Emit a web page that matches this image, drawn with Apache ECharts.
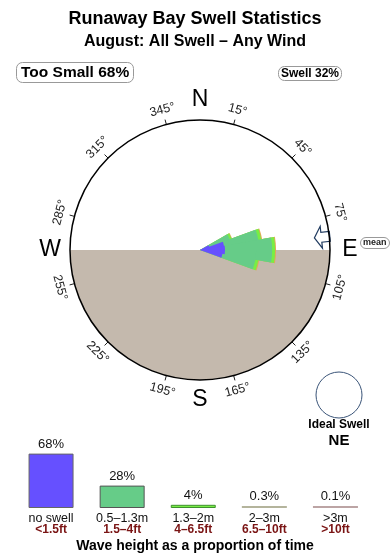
<!DOCTYPE html>
<html>
<head>
<meta charset="utf-8">
<script src="https://cdn.jsdelivr.net/npm/echarts@6/dist/echarts.min.js"></script>
<style>
html,body{margin:0;padding:0;background:#fff;}
#chart{width:390px;height:560px;}
</style>
</head>
<body>
<div id="chart"></div>
<script>
// ---------- data ----------
const tooSmallPct = 68;
const swellPct = 32;
const idealDir = 'NE';
const meanDir = [84];

// swell rose: direction bins (degrees) and stacked segment lengths (% of time)
const swellDirs = [70, 80, 90, 100];
const noSwell   = [3.0, 7.5, 7.7, 7.0];   // <1.5ft
const swell05   = [6.7, 10.7, 14.5, 10.3]; // 0.5-1.3m
const swell13   = [0.6, 0.9, 0.9, 0.9];   // 1.3-2m
const swell2    = [0.2, 0.3, 0.3, 0.3];   // 2-3m

// compass ticks & cardinal labels
const tickAngles = [15, 45, 75, 105, 135, 165, 195, 225, 255, 285, 315, 345];
const cardinalAngles = [0, 90, 180, 270];
const cardinalLabels = ['N', 'E', 'S', 'W'];
const landArc = [90, 270];

// wave height distribution
const heightCats = ['no swell', '0.5–1.3m', '1.3–2m', '2–3m', '>3m'];
const feetCats = ['<1.5ft', '1.5–4ft', '4–6.5ft', '6.5–10ft', '>10ft'];
const proportion = [68, 28, 4, 0.3, 0.1];

// ---------- chart ----------
const F = 'Liberation Sans, Arial, Helvetica, sans-serif';
const radiusMax = 40;
const halfWidth = 10;

const layers = [noSwell, swell05, swell13, swell2];
const cumulative = [];
layers.forEach((arr, k) => {
  cumulative.push(arr.map((v, i) => v + (k > 0 ? cumulative[k - 1][i] : 0)));
});
const layerColors = ['#6650ff', '#66cc88', '#77ee44', '#e0aa55'];

function unit(c, p) {
  const dx = p[0] - c[0], dy = p[1] - c[1];
  const l = Math.hypot(dx, dy) || 1;
  return [dx / l, dy / l];
}

function layerSeries(k, z) {
  return {
    type: 'custom', coordinateSystem: 'polar', z: z, silent: true,
    data: swellDirs.map((d, i) => [cumulative[k][i], d]),
    renderItem: function (params, api) {
      const i = params.dataIndex;
      const d = swellDirs[i];
      const rv = cumulative[k][i];
      const c = api.coord([0, d]);
      const p1 = api.coord([rv, d - halfWidth]);
      const p2 = api.coord([rv, d + halfWidth]);
      const r = Math.hypot(p1[0] - c[0], p1[1] - c[1]);
      let a1 = Math.atan2(p1[1] - c[1], p1[0] - c[0]);
      let a2 = Math.atan2(p2[1] - c[1], p2[0] - c[0]);
      if (a2 < a1) a2 += Math.PI * 2;
      return {
        type: 'sector',
        shape: { cx: c[0], cy: c[1], r0: 0, r: r, startAngle: a1, endAngle: a2, clockwise: true },
        style: { fill: layerColors[k] }
      };
    }
  };
}

const chart = echarts.init(document.getElementById('chart'), null, { renderer: 'canvas' });

const option = {
  animation: false,
  backgroundColor: '#ffffff',
  title: [
    { text: 'Runaway Bay Swell Statistics', left: 'center', top: 9, padding: 0,
      textStyle: { fontFamily: F, fontSize: 18, fontWeight: 'bold', color: '#000', lineHeight: 20 } },
    { text: 'August: All Swell – Any Wind', left: 'center', top: 33, padding: 0,
      textStyle: { fontFamily: F, fontSize: 16, fontWeight: 'bold', color: '#000', lineHeight: 18 } },
    { text: 'Too Small ' + tooSmallPct + '%', left: 16, top: 62, padding: [2, 5],
      borderWidth: 1, borderColor: '#999', borderRadius: 6,
      textStyle: { fontFamily: F, fontSize: 15.5, fontWeight: 'bold', color: '#000', lineHeight: 17 } },
    { text: 'Swell ' + swellPct + '%', left: 278, top: 66, padding: [1, 3],
      borderWidth: 1, borderColor: '#999', borderRadius: 6,
      textStyle: { fontFamily: F, fontSize: 12, fontWeight: 'bold', color: '#000', lineHeight: 13 } },
    { text: 'mean', left: 360, top: 237, padding: [1, 3],
      borderWidth: 1, borderColor: '#999', borderRadius: 6,
      textStyle: { fontFamily: F, fontSize: 9, fontWeight: 'bold', color: '#222', lineHeight: 10 } },
    { text: 'Ideal Swell', left: 339, textAlign: 'center', top: 418, padding: 0,
      textStyle: { fontFamily: F, fontSize: 12, fontWeight: 'bold', color: '#000', lineHeight: 14 } },
    { text: idealDir, left: 339, textAlign: 'center', top: 432, padding: 0,
      textStyle: { fontFamily: F, fontSize: 15, fontWeight: 'bold', color: '#000', lineHeight: 17 } },
    { text: 'Wave height as a proportion of time', left: 'center', top: 538, padding: 0,
      textStyle: { fontFamily: F, fontSize: 14, fontWeight: 'bold', color: '#000', lineHeight: 16 } }
  ],
  graphic: [
    { type: 'circle', shape: { cx: 339, cy: 395, r: 23 },
      style: { fill: '#fff', stroke: '#3a5478', lineWidth: 1 } }
  ],
  polar: { center: [200, 250], radius: 130 },
  angleAxis: {
    type: 'value', min: 0, max: 360, startAngle: 90, clockwise: true, z: 10,
    axisLine: { show: true, lineStyle: { color: '#000', width: 1.5 } },
    axisTick: { show: false }, axisLabel: { show: false }, splitLine: { show: false }
  },
  radiusAxis: {
    type: 'value', min: 0, max: radiusMax,
    axisLine: { show: false }, axisTick: { show: false }, axisLabel: { show: false }, splitLine: { show: false }
  },
  grid: { left: 15.5, width: 355.5, top: 428, height: 80 },
  xAxis: {
    type: 'category', data: heightCats, gridIndex: 0,
    axisLine: { show: false }, axisTick: { show: false },
    axisLabel: {
      interval: 0, margin: 5,
      formatter: function (val, idx) { return '{a|' + val + '}\n{b|' + feetCats[idx] + '}'; },
      rich: {
        a: { fontFamily: F, fontSize: 12.5, color: '#111', lineHeight: 11 },
        b: { fontFamily: F, fontSize: 12, fontWeight: 'bold', color: '#7a1414', lineHeight: 11 }
      }
    }
  },
  yAxis: { type: 'value', min: 0, max: 100, show: false, gridIndex: 0 },
  series: [
    // land (lower half of compass)
    {
      type: 'custom', coordinateSystem: 'polar', z: 1, silent: true,
      data: [[radiusMax, landArc[0]]],
      renderItem: function (params, api) {
        const c = api.coord([0, landArc[0]]);
        const p1 = api.coord([radiusMax, landArc[0]]);
        const p2 = api.coord([radiusMax, landArc[1]]);
        const r = Math.hypot(p1[0] - c[0], p1[1] - c[1]);
        let a1 = Math.atan2(p1[1] - c[1], p1[0] - c[0]);
        let a2 = Math.atan2(p2[1] - c[1], p2[0] - c[0]);
        if (a2 <= a1) a2 += Math.PI * 2;
        return {
          type: 'sector',
          shape: { cx: c[0], cy: c[1], r0: 0, r: r, startAngle: a1, endAngle: a2, clockwise: true },
          style: { fill: '#c4b9ad' }
        };
      }
    },
    // swell rose layers, outermost first
    layerSeries(3, 3),
    layerSeries(2, 4),
    layerSeries(1, 5),
    layerSeries(0, 6),
    // mean direction arrow
    {
      type: 'custom', coordinateSystem: 'polar', z: 7, silent: true,
      data: meanDir.map(a => [radiusMax, a]),
      renderItem: function (params, api) {
        const a = meanDir[params.dataIndex];
        const c = api.coord([0, a]);
        const p = api.coord([radiusMax, a]);
        const R = Math.hypot(p[0] - c[0], p[1] - c[1]);
        const u = unit(c, p);
        const n = [-u[1], u[0]];
        const at = (r, w) => [c[0] + u[0] * r + n[0] * w, c[1] + u[1] * r + n[1] * w];
        const tip = R - 15, base = R - 8, tail = R + 0.5;
        return {
          type: 'polygon',
          shape: { points: [at(tip, 0), at(base, 11), at(base, 5), at(tail, 5), at(tail, -5), at(base, -5), at(base, -11)] },
          style: { fill: '#fff', stroke: '#1f3a5f', lineWidth: 1.2 }
        };
      }
    },
    // ticks and degree labels
    {
      type: 'custom', coordinateSystem: 'polar', z: 8, silent: true,
      data: tickAngles.map(a => [radiusMax, a]),
      renderItem: function (params, api) {
        const a = tickAngles[params.dataIndex];
        const c = api.coord([0, a]);
        const p = api.coord([radiusMax, a]);
        const u = unit(c, p);
        let rot = a;
        if (a > 90 && a < 270) rot = a - 180; else if (a >= 270) rot = a - 360;
        return {
          type: 'group',
          children: [
            { type: 'line', shape: { x1: p[0], y1: p[1], x2: p[0] + u[0] * 5, y2: p[1] + u[1] * 5 },
              style: { stroke: '#222', lineWidth: 1 } },
            { type: 'text', x: p[0] + u[0] * 15, y: p[1] + u[1] * 15, rotation: -rot * Math.PI / 180,
              style: { text: a + '°', font: '12.5px ' + F, fill: '#222', align: 'center', verticalAlign: 'middle' } }
          ]
        };
      }
    },
    // cardinal letters
    {
      type: 'custom', coordinateSystem: 'polar', z: 8, silent: true,
      data: cardinalAngles.map(a => [radiusMax, a]),
      renderItem: function (params, api) {
        const a = cardinalAngles[params.dataIndex];
        const c = api.coord([0, a]);
        const p = api.coord([radiusMax, a]);
        const u = unit(c, p);
        return {
          type: 'text', x: p[0] + u[0] * 20, y: p[1] + u[1] * 20,
          style: { text: cardinalLabels[params.dataIndex], font: '23px ' + F, fill: '#000', align: 'center', verticalAlign: 'middle' }
        };
      }
    },
    // wave height bars
    {
      type: 'bar', xAxisIndex: 0, yAxisIndex: 0, barWidth: 45, barMinHeight: 2,
      data: proportion.map((v, i) => ({
        value: v,
        itemStyle: [
          { color: '#6650ff', borderColor: '#666', borderWidth: 1 },
          { color: '#66cc88', borderColor: '#555', borderWidth: 1 },
          { color: '#77ee44', borderColor: '#3f8f2f', borderWidth: 1 },
          { color: '#b4b49c', borderWidth: 0 },
          { color: '#bca4a4', borderWidth: 0 }
        ][i]
      })),
      label: {
        show: true, position: 'top', distance: 3,
        formatter: function (p) { return p.value + '%'; },
        fontFamily: F, fontSize: 13, color: '#111'
      }
    }
  ]
};

chart.setOption(option);
</script>
</body>
</html>
